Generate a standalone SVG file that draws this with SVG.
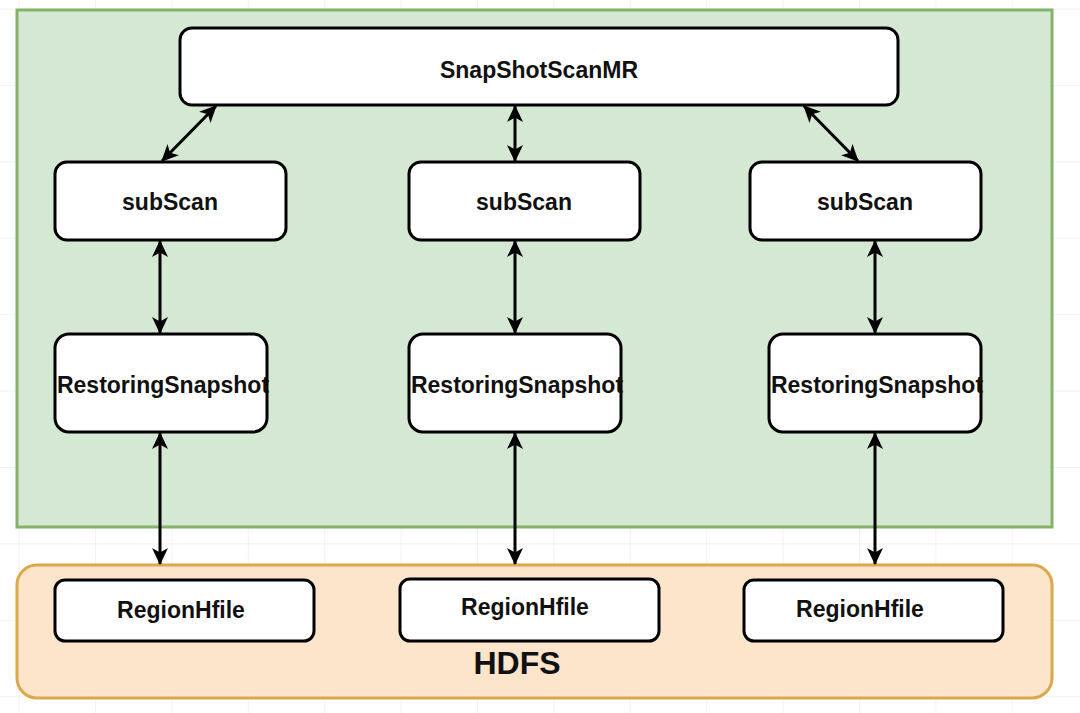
<svg xmlns="http://www.w3.org/2000/svg" width="1080" height="713" viewBox="0 0 1080 713">
<defs>
<pattern id="grid" x="18.6" y="8.6" width="76.4" height="76.4" patternUnits="userSpaceOnUse">
<path d="M0 0 H76.4 M0 0 V76.4" fill="none" stroke="#e6e6e6" stroke-width="1"/>
</pattern>
<marker id="ah" viewBox="0 0 17 16" refX="16" refY="8" markerWidth="17" markerHeight="16" markerUnits="userSpaceOnUse" orient="auto-start-reverse">
<path d="M0 0 L17 8 L0 16 L4.5 8 Z" fill="#000"/>
</marker>
</defs>
<style>
.box{fill:#fff;stroke:#000;stroke-width:3}
.lbl{font-family:"Liberation Sans",Arial,sans-serif;font-weight:bold;font-size:23px;fill:#111;text-anchor:middle;dominant-baseline:central}
.con{stroke:#000;stroke-width:3;fill:none;marker-start:url(#ah);marker-end:url(#ah)}
</style>
<rect width="1080" height="713" fill="#fff"/>
<rect width="1080" height="713" fill="url(#grid)"/>
<g id="container-main">
<rect x="17" y="10" width="1035" height="517" fill="#d5e8d4" stroke="#82b366" stroke-width="3"/>
</g>
<g id="container-hdfs">
<rect x="17" y="565" width="1035" height="133" rx="20" fill="#fde5cb" stroke="#d9a94c" stroke-width="3"/>
<text class="lbl" x="517" y="663" style="font-size:32px">HDFS</text>
</g>
<g id="snapshotscanmr">
<rect class="box" x="180" y="28" width="718" height="77" rx="12"/>
<text class="lbl" x="539" y="70">SnapShotScanMR</text>
</g>
<g id="subscan-1">
<rect class="box" x="55" y="162" width="231" height="78" rx="12"/>
<text class="lbl" x="170" y="202">subScan</text>
</g>
<g id="subscan-2">
<rect class="box" x="409" y="162" width="231" height="78" rx="12"/>
<text class="lbl" x="524" y="202">subScan</text>
</g>
<g id="subscan-3">
<rect class="box" x="750" y="162" width="231" height="78" rx="12"/>
<text class="lbl" x="865" y="202">subScan</text>
</g>
<g id="restoring-1">
<rect class="box" x="55" y="334" width="212" height="98" rx="14"/>
<text class="lbl" x="163" y="385">RestoringSnapshot</text>
</g>
<g id="restoring-2">
<rect class="box" x="409" y="334" width="212" height="98" rx="14"/>
<text class="lbl" x="517" y="385">RestoringSnapshot</text>
</g>
<g id="restoring-3">
<rect class="box" x="769" y="334" width="212" height="98" rx="14"/>
<text class="lbl" x="877" y="385">RestoringSnapshot</text>
</g>
<g id="regionhfile-1">
<rect class="box" x="55" y="580" width="259" height="61" rx="10"/>
<text class="lbl" x="181" y="610">RegionHfile</text>
</g>
<g id="regionhfile-2">
<rect class="box" x="400" y="579" width="259" height="62" rx="10"/>
<text class="lbl" x="525" y="607">RegionHfile</text>
</g>
<g id="regionhfile-3">
<rect class="box" x="744" y="580" width="259" height="61" rx="10"/>
<text class="lbl" x="860" y="609">RegionHfile</text>
</g>
<g id="connectors">
<line class="con" x1="216" y1="106" x2="162" y2="161"/>
<line class="con" x1="515" y1="106" x2="515" y2="161"/>
<line class="con" x1="804" y1="106" x2="858" y2="161"/>
<line class="con" x1="160" y1="241" x2="160" y2="333"/>
<line class="con" x1="515" y1="241" x2="515" y2="333"/>
<line class="con" x1="875" y1="241" x2="875" y2="333"/>
<line class="con" x1="160" y1="433" x2="160" y2="564"/>
<line class="con" x1="515" y1="433" x2="515" y2="564"/>
<line class="con" x1="875" y1="433" x2="875" y2="564"/>
</g>
</svg>
